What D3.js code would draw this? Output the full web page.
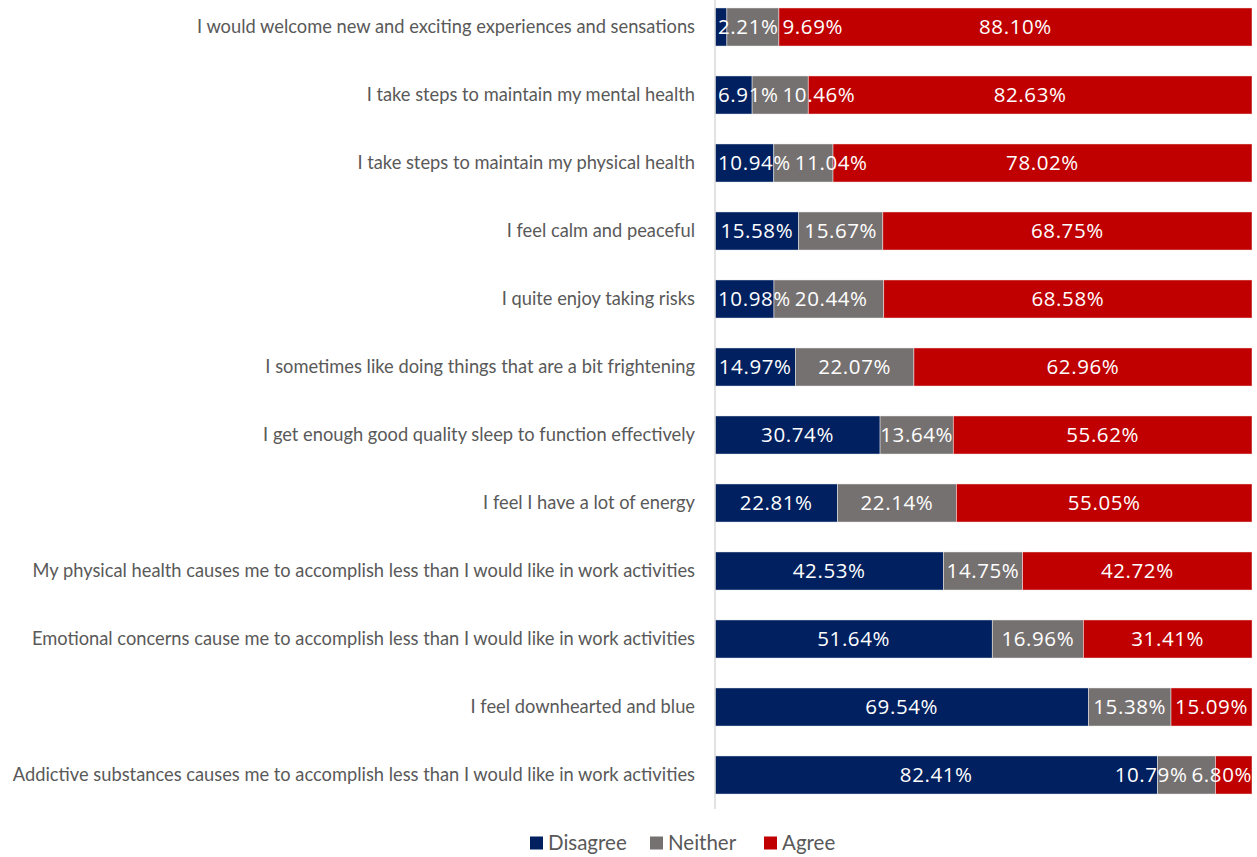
<!DOCTYPE html>
<html>
<head>
<meta charset="utf-8">
<script src="https://cdn.jsdelivr.net/npm/d3@7"></script>
<style>
  html, body { margin: 0; padding: 0; background: #fff; }
  svg { display: block; }
</style>
</head>
<body>
<svg id="chart" width="1257" height="857"></svg>
<script>
// Survey statements, top to bottom
const categories = [
  "I would welcome new and exciting experiences and sensations",
  "I take steps to maintain my mental health",
  "I take steps to maintain my physical health",
  "I feel calm and peaceful",
  "I quite enjoy taking risks",
  "I sometimes like doing things that are a bit frightening",
  "I get enough good quality sleep to function effectively",
  "I feel I have a lot of energy",
  "My physical health causes me to accomplish less than I would like in work activities",
  "Emotional concerns cause me to accomplish less than I would like in work activities",
  "I feel downhearted and blue",
  "Addictive substances causes me to accomplish less than I would like in work activities"
];

// Share of responses (%) per statement
const disagree = [2.21, 6.91, 10.94, 15.58, 10.98, 14.97, 30.74, 22.81, 42.53, 51.64, 69.54, 82.41];
const neither  = [9.69, 10.46, 11.04, 15.67, 20.44, 22.07, 13.64, 22.14, 14.75, 16.96, 15.38, 10.79];
const agree    = [88.10, 82.63, 78.02, 68.75, 68.58, 62.96, 55.62, 55.05, 42.72, 31.41, 15.09, 6.80];

const seriesNames = ["Disagree", "Neither", "Agree"];
const seriesColors = ["#002060", "#767171", "#C00000"];

const rows = categories.map((c, i) => ({
  category: c, Disagree: disagree[i], Neither: neither[i], Agree: agree[i]
}));

const svg = d3.select("#chart");
const plot = { left: 715, right: 1252, top: -7, bottom: 809 };

const x = d3.scaleLinear().domain([0, 100]).range([plot.left, plot.right]);
const y = d3.scaleBand().domain(categories).range([plot.top, plot.bottom])
  .paddingInner(0.44).paddingOuter(0.22);

const stacked = d3.stack().keys(seriesNames)(rows);

// Bars
const barLayer = svg.append("g");
stacked.forEach((layer, i) => {
  barLayer.append("g").attr("fill", seriesColors[i])
    .selectAll("rect")
    .data(layer)
    .join("rect")
    .attr("x", d => x(d[0]))
    .attr("y", d => y(d.data.category))
    .attr("width", d => x(d[1]) - x(d[0]))
    .attr("height", y.bandwidth())
    .attr("stroke", "#ffffff")
    .attr("stroke-opacity", 0.6)
    .attr("stroke-width", 0.75);
});

// Value labels: centred in each segment, kept inside the plot and nudged apart
const labelLayer = svg.append("g")
  .attr("fill", "#ffffff")
  .attr("font-family", "'Open Sans', sans-serif")
  .attr("font-size", 20.5)
  .attr("letter-spacing", 0.6);

const GAP = 4;
rows.forEach((row, r) => {
  const items = stacked.map((layer, i) => {
    const seg = layer[r];
    const t = labelLayer.append("text")
      .attr("y", y(row.category) + y.bandwidth() / 2)
      .attr("dy", "0.36em")
      .text(row[seriesNames[i]].toFixed(2) + "%");
    const w = t.node().getComputedTextLength();
    let left = (x(seg[0]) + x(seg[1])) / 2 - w / 2;
    left = Math.max(left, plot.left + 3);
    left = Math.min(left, plot.right - w);
    return { t, w, left };
  });
  // push right away from a left-clamped neighbour
  for (let i = 1; i < items.length; i++) {
    const prevRight = items[i - 1].left + items[i - 1].w;
    if (items[i].left < prevRight + GAP) items[i].left = prevRight + GAP;
  }
  // keep inside the right edge, pushing left where needed
  for (let i = items.length - 1; i >= 0; i--) {
    const limit = i === items.length - 1 ? plot.right : items[i + 1].left - GAP;
    if (items[i].left + items[i].w > limit) items[i].left = limit - items[i].w;
  }
  items.forEach(it => it.t.attr("x", it.left));
});

// Category axis
const yAxis = d3.axisLeft(y).tickSize(0).tickPadding(20);
const ag = svg.append("g")
  .attr("transform", `translate(${plot.left},0)`)
  .call(yAxis);
ag.select(".domain")
  .attr("stroke", "#d9d9d9")
  .attr("stroke-width", 1.5)
  .attr("d", `M0,${plot.top}V${plot.bottom}`);
ag.selectAll("text")
  .attr("fill", "#595959")
  .attr("font-family", "Lato, sans-serif")
  .attr("font-size", 18.3);

// Legend
const legendItems = [
  { name: "Disagree", color: seriesColors[0], x: 530 },
  { name: "Neither",  color: seriesColors[1], x: 650 },
  { name: "Agree",    color: seriesColors[2], x: 764 }
];
const lg = svg.append("g").selectAll("g").data(legendItems).join("g")
  .attr("transform", d => `translate(${d.x},843)`);
lg.append("rect")
  .attr("x", 0).attr("y", -6.5)
  .attr("width", 13).attr("height", 13)
  .attr("fill", d => d.color);
lg.append("text")
  .attr("x", 18).attr("dy", "0.36em")
  .attr("fill", "#595959")
  .attr("font-family", "Lato, sans-serif")
  .attr("font-size", 20.5)
  .text(d => d.name);
</script>
</body>
</html>
